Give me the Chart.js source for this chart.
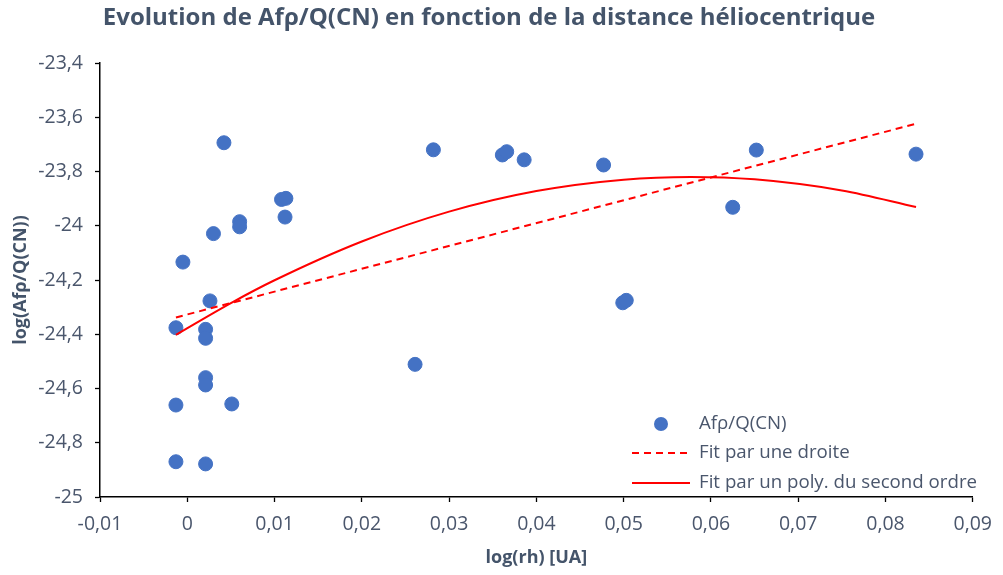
<!DOCTYPE html>
<html><head><meta charset="utf-8">
<script src="https://cdn.jsdelivr.net/npm/chart.js@4.4.0/dist/chart.umd.min.js"></script>
<style>html,body{margin:0;padding:0;background:#fff;}</style>
</head><body>
<canvas id="c" width="1003" height="575"></canvas>
<script>
// Observations: log(rh) [UA] vs log(Afρ/Q(CN))
const obsX = [0.0042, 0.0108, 0.0113, 0.0112, 0.0060, 0.0060, 0.0030, -0.0005, 0.0026, -0.0013,
              0.0021, 0.0021, 0.0021, 0.0021, -0.0013, 0.0051, -0.0013, 0.0021, 0.0282, 0.0361,
              0.0366, 0.0386, 0.0477, 0.0499, 0.0503, 0.0261, 0.0652, 0.0625, 0.0835];
const obsY = [-23.694, -23.903, -23.899, -23.968, -23.985, -24.004, -24.029, -24.134, -24.277, -24.376,
              -24.382, -24.415, -24.560, -24.587, -24.661, -24.657, -24.870, -24.878, -23.720, -23.739,
              -23.727, -23.757, -23.776, -24.284, -24.275, -24.511, -23.721, -23.932, -23.736];
// Linear fit
const linX = [-0.0013, 0.0835];
const linY = [-24.338, -23.624];
// Second order polynomial fit
const polyX = [-0.0013, 0.005, 0.010, 0.020, 0.030, 0.040, 0.050, 0.0577, 0.065, 0.075, 0.0835];
const polyY = [-24.402, -24.285, -24.201, -24.058, -23.948, -23.872, -23.830, -23.820, -23.829, -23.870, -23.931];
// Tick labels
const xTickValues = [-0.01, 0, 0.01, 0.02, 0.03, 0.04, 0.05, 0.06, 0.07, 0.08, 0.09];
const xTickLabels = ['-0,01', '0', '0,01', '0,02', '0,03', '0,04', '0,05', '0,06', '0,07', '0,08', '0,09'];
const yTickValues = [-25, -24.8, -24.6, -24.4, -24.2, -24, -23.8, -23.6, -23.4];
const yTickLabels = ['-25', '-24,8', '-24,6', '-24,4', '-24,2', '-24', '-23,8', '-23,6', '-23,4'];

const seriesNames = ['Afρ/Q(CN)', 'Fit par une droite', 'Fit par un poly. du second ordre'];

const TXT = '#4A566C';
const FONT = '"Open Sans"';

function pts(xs, ys) { return xs.map((x, i) => ({x: x, y: ys[i]})); }
function labelFor(vals, labels, tol) {
  return function (v) {
    for (let i = 0; i < vals.length; i++) if (Math.abs(v - vals[i]) < tol) return labels[i];
    return null;
  };
}

const legendPlugin = {
  id: 'insideLegend',
  afterDraw(chart, args, opts) {
    const ctx = chart.ctx;
    const ds = chart.data.datasets;
    ctx.save();
    ctx.font = opts.fontSize + 'px ' + FONT;
    ctx.textBaseline = 'middle';
    ctx.textAlign = 'left';
    opts.rows.forEach((ry, i) => {
      const d = ds[i];
      if (i === 0) {
        ctx.beginPath();
        ctx.fillStyle = d.backgroundColor;
        ctx.arc(opts.markerX, ry, d.pointRadius, 0, Math.PI * 2);
        ctx.fill();
      } else {
        ctx.beginPath();
        ctx.strokeStyle = d.borderColor;
        ctx.lineWidth = d.borderWidth;
        ctx.setLineDash(d.borderDash || []);
        ctx.moveTo(opts.lineX0, ry);
        ctx.lineTo(opts.lineX1, ry);
        ctx.stroke();
        ctx.setLineDash([]);
      }
      ctx.fillStyle = TXT;
      ctx.fillText(d.label, opts.textX, ry);
    });
    ctx.restore();
  }
};

new Chart(document.getElementById('c'), {
  type: 'scatter',
  data: {
    datasets: [
      { label: seriesNames[0], data: pts(obsX, obsY), backgroundColor: '#4472C4', borderColor: '#4472C4',
        pointRadius: 7, pointHoverRadius: 7, showLine: false, order: 2 },
      { label: seriesNames[1], data: pts(linX, linY), borderColor: '#FF0000', backgroundColor: '#FF0000',
        borderWidth: 2, borderDash: [7, 5], pointRadius: 0, showLine: true, order: 1 },
      { label: seriesNames[2], data: pts(polyX, polyY), borderColor: '#FF0000', backgroundColor: '#FF0000',
        borderWidth: 2, pointRadius: 0, showLine: true, tension: 0.4, cubicInterpolationMode: 'monotone', order: 1 }
    ]
  },
  options: {
    responsive: false,
    animation: false,
    layout: { padding: { left: 0, right: 25, top: 0, bottom: 0 } },
    plugins: {
      legend: { display: false },
      tooltip: { enabled: false },
      title: {
        display: true,
        text: 'Evolution de Afρ/Q(CN) en fonction de la distance héliocentrique',
        color: '#44546A',
        font: { family: FONT, size: 24, weight: 'bold' },
        padding: { top: 4, bottom: 30.2 }
      },
      insideLegend: { rows: [424, 453, 483], markerX: 661, lineX0: 632, lineX1: 690, textX: 699, fontSize: 18.7 }
    },
    scales: {
      x: {
        type: 'linear', min: -0.01, max: 0.09,
        ticks: { stepSize: 0.002, autoSkip: false, maxRotation: 0, padding: 11, color: TXT,
                 font: { family: FONT, size: 19.5 }, callback: labelFor(xTickValues, xTickLabels, 1e-7) },
        grid: { display: true, drawOnChartArea: false, drawTicks: true, tickLength: 5, tickColor: '#000', tickWidth: 1.3 },
        border: { display: true, color: '#000', width: 1.5 },
        title: { display: true, text: 'log(rh) [UA]', color: '#44546A', font: { family: FONT, size: 18, weight: 'bold' },
                 padding: { top: 0, bottom: 6 } },
        afterFit(s) { s.height = 78; }
      },
      y: {
        type: 'linear', min: -25, max: -23.4,
        ticks: { stepSize: 0.04, autoSkip: false, padding: 12, color: TXT,
                 font: { family: FONT, size: 19.5 }, callback: labelFor(yTickValues, yTickLabels, 1e-6) },
        grid: { display: true, drawOnChartArea: false, drawTicks: true, tickLength: 5, tickColor: '#000', tickWidth: 1.3 },
        border: { display: true, color: '#000', width: 1.5 },
        title: { display: true, text: 'log(Afρ/Q(CN))', color: '#44546A', font: { family: FONT, size: 18, weight: 'bold' },
                 padding: { top: 10, bottom: 0 } },
        afterFit(s) { s.width = 100; }
      }
    }
  },
  plugins: [legendPlugin]
});
</script>
</body></html>
